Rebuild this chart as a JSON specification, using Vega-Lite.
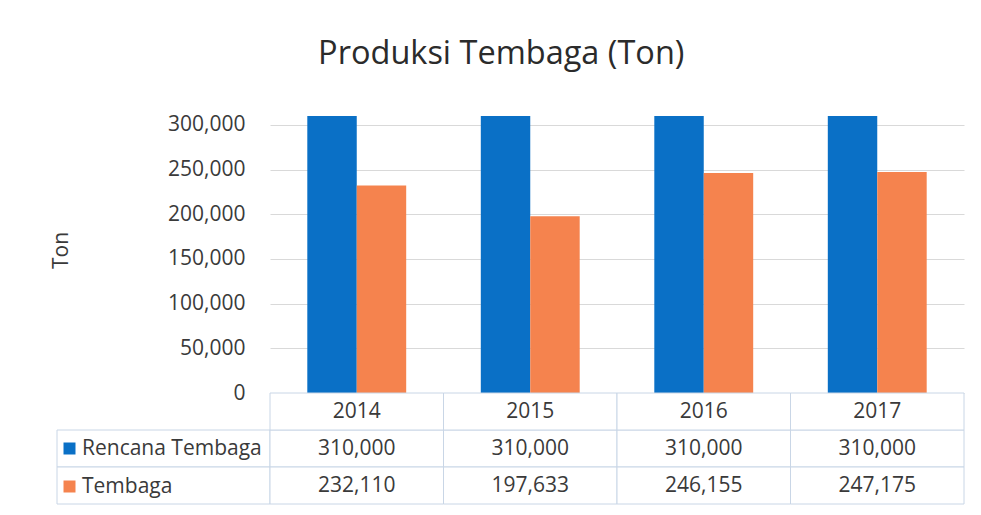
{
  "$schema": "https://vega.github.io/schema/vega-lite/v6.json",
  "background": "white",
  "padding": {"left": 50, "top": 37, "right": 5, "bottom": 5},
  "bounds": "flush",
  "spacing": 0,
  "columns": 2,
  "title": {
    "text": "Produksi Tembaga (Ton)",
    "font": "Open Sans",
    "fontSize": 32.5,
    "fontWeight": "normal",
    "color": "#2b2b2b",
    "anchor": "middle",
    "offset": 37,
    "dx": -6
  },
  "datasets": {
    "prod": [
      {"year": "2014", "series": "Rencana Tembaga", "value": 310000},
      {"year": "2014", "series": "Tembaga", "value": 232110},
      {"year": "2015", "series": "Rencana Tembaga", "value": 310000},
      {"year": "2015", "series": "Tembaga", "value": 197633},
      {"year": "2016", "series": "Rencana Tembaga", "value": 310000},
      {"year": "2016", "series": "Tembaga", "value": 246155},
      {"year": "2017", "series": "Rencana Tembaga", "value": 310000},
      {"year": "2017", "series": "Tembaga", "value": 247175}
    ]
  },
  "concat": [
    {
      "width": 213,
      "height": 286,
      "data": {"values": []},
      "mark": "rule",
      "encoding": {}
    },
    {
      "width": 694,
      "height": 286,
      "data": {"name": "prod"},
      "mark": {"type": "bar"},
      "encoding": {
        "x": {
          "field": "year",
          "type": "nominal",
          "axis": null,
          "scale": {"paddingInner": 0.43, "paddingOuter": 0.215}
        },
        "xOffset": {"field": "series", "type": "nominal", "sort": ["Rencana Tembaga", "Tembaga"]},
        "y": {
          "field": "value",
          "type": "quantitative",
          "scale": {"domain": [0, 320000], "nice": false},
          "axis": {
            "values": [0, 50000, 100000, 150000, 200000, 250000, 300000],
            "format": ",d",
            "grid": true,
            "gridColor": "#D9D9D9",
            "gridWidth": 1,
            "domain": false,
            "ticks": false,
            "labelPadding": 25,
            "labelFont": "Open Sans",
            "labelFontSize": 21,
            "labelColor": "#3a3a3a",
            "title": "Ton",
            "titleFont": "Open Sans",
            "titleFontSize": 21,
            "titleFontWeight": "normal",
            "titleColor": "#3a3a3a",
            "titleX": -209,
            "titleY": 143,
            "titleBaseline": "middle",
            "titleAlign": "center",
            "titleAngle": -90
          }
        },
        "color": {
          "field": "series",
          "type": "nominal",
          "scale": {"domain": ["Rencana Tembaga", "Tembaga"], "range": ["#0A70C6", "#F5834E"]},
          "legend": {
            "orient": "none",
            "legendX": 2,
            "legendY": 331,
            "title": null,
            "padding": 0,
            "symbolType": "square",
            "symbolSize": 144,
            "symbolStrokeWidth": 0,
            "symbolOpacity": 1,
            "labelFont": "Open Sans",
            "labelFontSize": 21,
            "labelColor": "#3a3a3a",
            "labelOffset": 2,
            "rowPadding": 16,
            "labelLimit": 300
          }
        }
      }
    },
    {
      "width": 213,
      "height": 111,
      "data": {"name": "prod"},
      "transform": [{"aggregate": [{"op": "count", "as": "n"}], "groupby": ["series"]}],
      "mark": {"type": "rect", "fill": "white", "stroke": "#C9D6E6", "strokeWidth": 1},
      "encoding": {
        "y": {
          "field": "series",
          "type": "nominal",
          "scale": {"domain": ["header", "Rencana Tembaga", "Tembaga"], "paddingInner": 0, "paddingOuter": 0},
          "axis": null
        }
      }
    },
    {
      "width": 694,
      "height": 111,
      "data": {"name": "prod"},
      "layer": [
        {
          "mark": {"type": "rect", "fill": "white", "stroke": "#C9D6E6", "strokeWidth": 1},
          "encoding": {
            "x": {"field": "year", "type": "nominal", "axis": null, "scale": {"paddingInner": 0, "paddingOuter": 0}},
            "y": {
              "field": "series",
              "type": "nominal",
              "scale": {"domain": ["header", "Rencana Tembaga", "Tembaga"], "paddingInner": 0, "paddingOuter": 0},
              "axis": null
            }
          }
        },
        {
          "transform": [{"aggregate": [{"op": "count", "as": "n"}], "groupby": ["year"]}],
          "layer": [
            {
              "mark": {"type": "rect", "fill": "white", "stroke": "#C9D6E6", "strokeWidth": 1},
              "encoding": {
                "x": {"field": "year", "type": "nominal", "axis": null},
                "y": {"datum": "header", "type": "nominal", "axis": null}
              }
            },
            {
              "mark": {"type": "text", "font": "Open Sans", "fontSize": 21, "color": "#3a3a3a", "baseline": "middle", "align": "center"},
              "encoding": {
                "x": {"field": "year", "type": "nominal", "axis": null},
                "y": {"datum": "header", "type": "nominal", "axis": null},
                "text": {"field": "year"}
              }
            }
          ]
        },
        {
          "mark": {"type": "text", "font": "Open Sans", "fontSize": 21, "color": "#3a3a3a", "baseline": "middle", "align": "center"},
          "encoding": {
            "x": {"field": "year", "type": "nominal", "axis": null},
            "y": {"field": "series", "type": "nominal", "axis": null},
            "text": {"field": "value", "type": "quantitative", "format": ","}
          }
        }
      ]
    }
  ],
  "config": {
    "view": {"stroke": null},
    "text": {"font": "Open Sans"}
  }
}
